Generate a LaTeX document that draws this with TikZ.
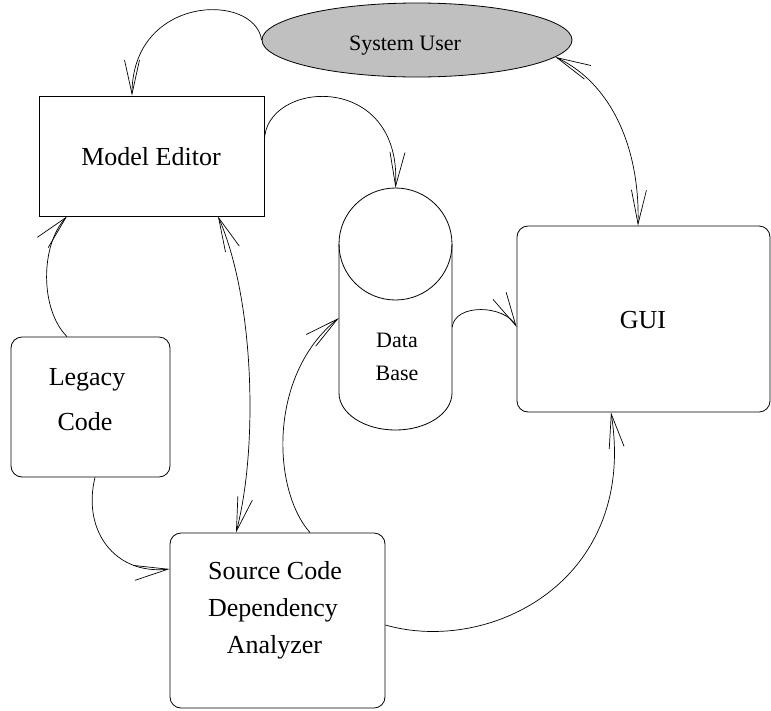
\documentclass[tikz,border=0pt]{standalone}
\usepackage{fontspec}
\setmainfont{Liberation Serif}
\usetikzlibrary{arrows.meta,calc,shapes.geometric}
\definecolor{sugray}{RGB}{192,192,192}
\begin{document}
\begin{tikzpicture}[x=1pt,y=-1pt,
  outline/.style={draw=black,line width=0.8pt},
  plainbox/.style={outline,rectangle,inner sep=0pt},
  roundbox/.style={outline,rectangle,rounded corners=11pt,inner sep=0pt},
  bigtext/.style={inner sep=0pt,anchor=base,font=\fontsize{26}{30}\selectfont},
  smalltext/.style={inner sep=0pt,anchor=base,font=\fontsize{22}{26}\selectfont},
  conn/.style={line width=0.7pt,black},
  arr/.style={conn,-{Straight Barb[length=34pt,width=15pt]}},
  darr/.style={conn,{Straight Barb[length=34pt,width=15pt]}-{Straight Barb[length=34pt,width=15pt]}}]
\useasboundingbox (0,0) rectangle (771,710);

% shapes
\node[outline,ellipse,fill=sugray,inner sep=0pt,minimum width=310pt,minimum height=74pt] (su) at (417,40) {};
\node[plainbox,minimum width=225pt,minimum height=120pt] (me) at (151.5,156) {};
\node[roundbox,minimum width=253pt,minimum height=186pt] (gui) at (643.5,319) {};
\node[roundbox,minimum width=159pt,minimum height=140pt] (lc) at (90.5,407) {};
\node[roundbox,minimum width=215pt,minimum height=175pt] (sc) at (277.5,620.5) {};
\node[inner sep=0pt,minimum width=113pt,minimum height=242pt] (db) at (395.5,309) {};

% cylinder
\draw[line width=0.8pt] (395.5,244) circle[x radius=56.5pt,y radius=56pt];
\draw[line width=0.8pt] (339,244) -- (339,393) arc[start angle=180,end angle=360,x radius=56.5pt,y radius=37pt] -- (452,244);

% texts
\node[smalltext] (sut) at (405,50) {System User};
\node[bigtext] (met) at (151,165) {Model Editor};
\node[bigtext] (guit) at (643,328) {GUI};
\node[smalltext] (dbt1) at (397,347) {Data};
\node[smalltext] (dbt2) at (397,380) {Base};
\node[bigtext] (lct1) at (87,385) {Legacy};
\node[bigtext] (lct2) at (85,430) {Code};
\node[bigtext] (sct1) at (275,579) {Source Code};
\node[bigtext] (sct2) at (273,616) {Dependency};
\node[bigtext] (sct3) at (274.5,653) {Analyzer};

% connectors
\draw[arr] (su.west) .. controls +(-7,-48) and +(0,-101) .. ($(me.north)+(-19.5,0)$);
\draw[arr] ($(me.east)+(0,-15)$) .. controls +(0,-61) and +(6.5,-118) .. (db.north);
\draw[darr] (su.-7.5) .. controls +(57,27) and +(2,-76) .. ($(gui.north)+(-5.5,0)$);
\draw[arr] ($(db.east)+(0,18)$) .. controls +(3,-24) and +(-12,-22) .. ($(gui.west)+(0,8)$);
\draw[arr] ($(lc.north)+(-23.5,0)$) .. controls +(-27,-27) and +(-27,29) .. ($(me.south)+(-84.5,0)$);
\draw[darr] ($(me.south)+(66.5,0)$) .. controls +(37,84) and +(22,-83) .. ($(sc.north)+(-41.5,0)$);
\draw[arr] ($(lc.south)+(4.5,0)$) .. controls +(-13,53) and +(-55,6) .. ($(sc.west)+(0,-51.5)$);
\draw[arr] ($(sc.north)+(32.5,0)$) .. controls +(-38,-43) and +(-71,57) .. ($(db.west)+(0,9)$);
\draw[arr] ($(sc.east)+(0,4.5)$) .. controls +(105,30) and +(27,168) .. ($(gui.south)+(-32.5,0)$);
\end{tikzpicture}
\end{document}
